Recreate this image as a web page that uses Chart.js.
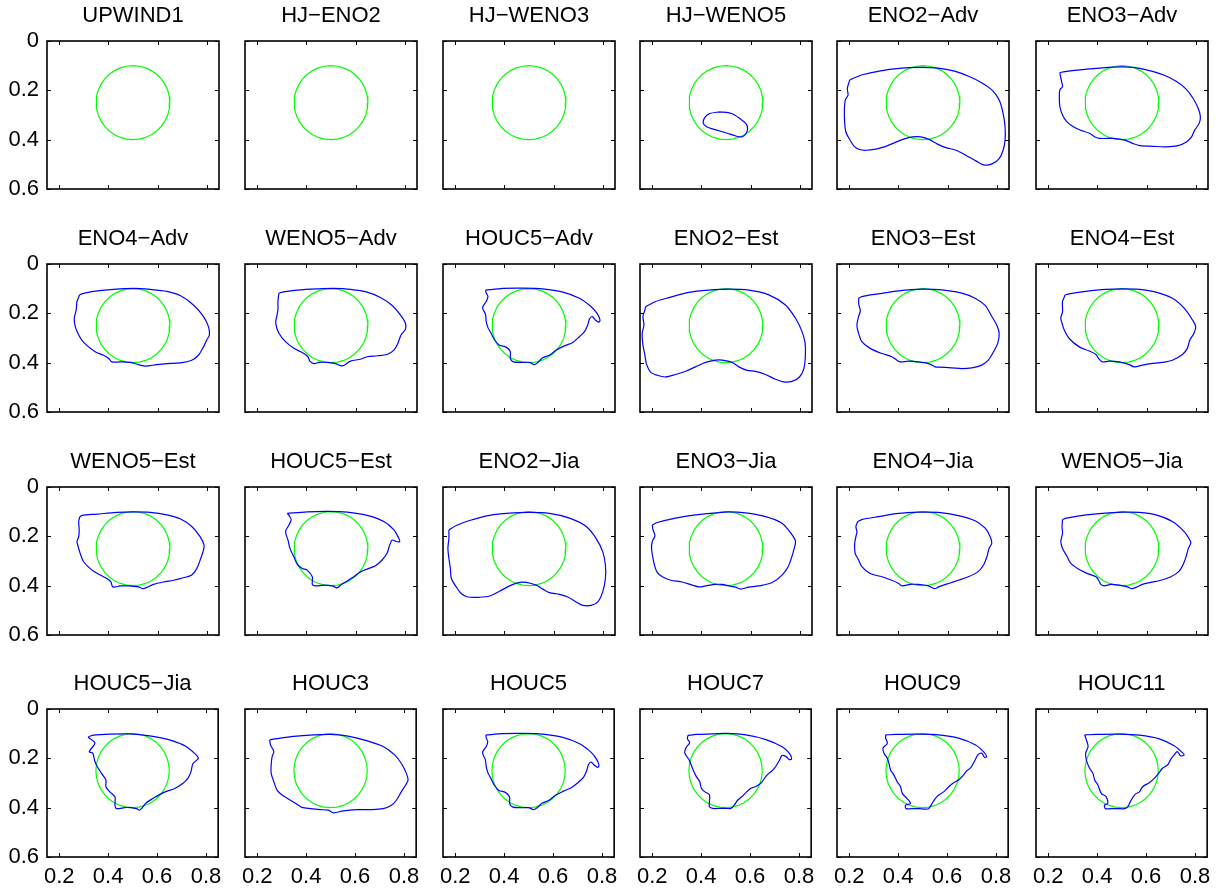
<!DOCTYPE html>
<html>
<head>
<meta charset="utf-8">
<script src="https://cdn.jsdelivr.net/npm/chart.js@4/dist/chart.umd.min.js"></script>
<style>
  html, body { margin: 0; padding: 0; background: #ffffff; }
  #fig { position: relative; width: 1219px; height: 890px; overflow: hidden; background: #ffffff; }
  #fig canvas { position: absolute; }
</style>
</head>
<body>
<div id="fig"></div>
<script>
// Panel titles, row by row (6 columns x 4 rows)
const titles = [
  'UPWIND1', 'HJ\u2212ENO2', 'HJ\u2212WENO3', 'HJ\u2212WENO5', 'ENO2\u2212Adv', 'ENO3\u2212Adv',
  'ENO4\u2212Adv', 'WENO5\u2212Adv', 'HOUC5\u2212Adv', 'ENO2\u2212Est', 'ENO3\u2212Est', 'ENO4\u2212Est',
  'WENO5\u2212Est', 'HOUC5\u2212Est', 'ENO2\u2212Jia', 'ENO3\u2212Jia', 'ENO4\u2212Jia', 'WENO5\u2212Jia',
  'HOUC5\u2212Jia', 'HOUC3', 'HOUC5', 'HOUC7', 'HOUC9', 'HOUC11'
];

// Axis ticks
const xTicks = [0.2, 0.4, 0.6, 0.8];
const xTickLabels = ['0.2', '0.4', '0.6', '0.8'];
const yTicks = [0, 0.2, 0.4, 0.6];
const yTickLabels = ['0', '0.2', '0.4', '0.6'];

// Initial interface: circle of radius 0.15 centred at (0.5, 0.25)
const circleX = [0.650, 0.6477, 0.6410, 0.6299, 0.6149, 0.5964, 0.5750, 0.5513, 0.5260, 0.500,
                 0.4740, 0.4487, 0.4250, 0.4036, 0.3851, 0.3701, 0.3590, 0.3523, 0.350,
                 0.3523, 0.3590, 0.3701, 0.3851, 0.4036, 0.4250, 0.4487, 0.4740, 0.500,
                 0.5260, 0.5513, 0.5750, 0.5964, 0.6149, 0.6299, 0.6410, 0.6477, 0.650];
const circleY = [0.250, 0.2760, 0.3013, 0.3250, 0.3464, 0.3649, 0.3799, 0.3910, 0.3977, 0.400,
                 0.3977, 0.3910, 0.3799, 0.3649, 0.3464, 0.3250, 0.3013, 0.2760, 0.250,
                 0.2240, 0.1987, 0.1750, 0.1536, 0.1351, 0.1201, 0.1090, 0.1023, 0.100,
                 0.1023, 0.1090, 0.1201, 0.1351, 0.1536, 0.1750, 0.1987, 0.2240, 0.250];

// Computed interfaces, [x, y] pairs
const upwind1 = [];
const hjEno2 = [];
const hjWeno3 = [];
const hjWeno5 = [[0.475,0.287],[0.522,0.294],[0.556,0.314],[0.581,0.335],[0.588,0.355],[0.581,0.376],[0.567,0.388],[0.543,0.386],[0.502,0.373],[0.455,0.359],[0.421,0.348],[0.407,0.332],[0.414,0.310],[0.434,0.294]];
const eno2Adv = [[0.200,0.160],[0.214,0.152],[0.254,0.137],[0.322,0.122],[0.403,0.111],[0.485,0.107],[0.552,0.109],[0.620,0.120],[0.688,0.144],[0.742,0.171],[0.783,0.201],[0.810,0.239],[0.826,0.293],[0.834,0.348],[0.834,0.402],[0.826,0.443],[0.810,0.477],[0.783,0.497],[0.749,0.503],[0.715,0.486],[0.674,0.463],[0.634,0.443],[0.593,0.432],[0.559,0.418],[0.525,0.399],[0.491,0.389],[0.457,0.389],[0.424,0.397],[0.383,0.413],[0.349,0.427],[0.308,0.438],[0.268,0.443],[0.241,0.440],[0.220,0.427],[0.203,0.402],[0.186,0.368],[0.181,0.327],[0.180,0.280],[0.184,0.239],[0.195,0.219],[0.192,0.192],[0.200,0.164]];
const eno3Adv = [[0.247,0.128],[0.268,0.124],[0.329,0.117],[0.410,0.110],[0.491,0.105],[0.546,0.107],[0.600,0.117],[0.667,0.137],[0.722,0.164],[0.762,0.196],[0.789,0.232],[0.810,0.273],[0.819,0.307],[0.814,0.334],[0.796,0.361],[0.783,0.389],[0.762,0.409],[0.728,0.424],[0.681,0.429],[0.627,0.427],[0.573,0.424],[0.546,0.416],[0.512,0.402],[0.464,0.395],[0.410,0.395],[0.390,0.389],[0.369,0.375],[0.329,0.361],[0.302,0.348],[0.275,0.327],[0.258,0.300],[0.247,0.266],[0.245,0.232],[0.247,0.198],[0.258,0.185],[0.254,0.164],[0.250,0.144]];
const eno4Adv = [[0.283,0.125],[0.292,0.121],[0.340,0.111],[0.421,0.103],[0.502,0.099],[0.570,0.103],[0.638,0.111],[0.692,0.128],[0.746,0.166],[0.787,0.213],[0.807,0.254],[0.811,0.288],[0.800,0.308],[0.787,0.336],[0.766,0.370],[0.739,0.390],[0.692,0.401],[0.638,0.404],[0.597,0.408],[0.550,0.414],[0.529,0.410],[0.489,0.399],[0.448,0.397],[0.414,0.397],[0.401,0.383],[0.380,0.370],[0.346,0.356],[0.299,0.318],[0.279,0.288],[0.265,0.254],[0.261,0.220],[0.269,0.186],[0.272,0.152]];
const weno5Adv = [[0.288,0.118],[0.302,0.114],[0.363,0.106],[0.444,0.101],[0.512,0.099],[0.579,0.103],[0.647,0.114],[0.701,0.136],[0.749,0.168],[0.783,0.207],[0.803,0.240],[0.803,0.264],[0.785,0.288],[0.772,0.322],[0.756,0.349],[0.728,0.367],[0.688,0.372],[0.647,0.376],[0.620,0.386],[0.579,0.394],[0.546,0.413],[0.518,0.404],[0.485,0.399],[0.451,0.399],[0.430,0.404],[0.414,0.394],[0.406,0.376],[0.383,0.359],[0.349,0.342],[0.315,0.315],[0.288,0.281],[0.275,0.240],[0.279,0.213],[0.284,0.186],[0.284,0.152]];
const houc5Adv = [[0.323,0.106],[0.394,0.099],[0.475,0.098],[0.556,0.101],[0.638,0.114],[0.705,0.139],[0.753,0.173],[0.777,0.200],[0.789,0.227],[0.784,0.236],[0.770,0.227],[0.757,0.213],[0.746,0.223],[0.739,0.247],[0.726,0.274],[0.705,0.295],[0.678,0.318],[0.644,0.332],[0.611,0.349],[0.583,0.370],[0.556,0.380],[0.536,0.399],[0.522,0.408],[0.502,0.399],[0.468,0.399],[0.437,0.397],[0.424,0.383],[0.424,0.356],[0.407,0.337],[0.380,0.329],[0.360,0.308],[0.346,0.281],[0.333,0.258],[0.326,0.234],[0.323,0.204],[0.312,0.182],[0.312,0.173],[0.326,0.152],[0.333,0.132],[0.326,0.118]];
const eno2Est = [[0.173,0.173],[0.214,0.152],[0.268,0.136],[0.349,0.115],[0.430,0.106],[0.512,0.102],[0.593,0.106],[0.674,0.125],[0.742,0.166],[0.783,0.220],[0.807,0.268],[0.821,0.315],[0.823,0.370],[0.817,0.424],[0.799,0.458],[0.769,0.476],[0.735,0.478],[0.701,0.467],[0.661,0.448],[0.620,0.435],[0.586,0.431],[0.552,0.417],[0.525,0.399],[0.485,0.390],[0.457,0.390],[0.417,0.399],[0.376,0.417],[0.336,0.435],[0.295,0.448],[0.254,0.458],[0.220,0.451],[0.193,0.438],[0.176,0.404],[0.170,0.370],[0.162,0.329],[0.159,0.281],[0.166,0.247],[0.162,0.213],[0.170,0.186]];
const eno3Est = [[0.238,0.139],[0.251,0.132],[0.319,0.121],[0.401,0.109],[0.495,0.102],[0.577,0.105],[0.658,0.118],[0.712,0.139],[0.753,0.168],[0.780,0.213],[0.800,0.247],[0.810,0.281],[0.804,0.322],[0.787,0.356],[0.766,0.390],[0.739,0.410],[0.699,0.421],[0.658,0.424],[0.617,0.421],[0.563,0.418],[0.550,0.417],[0.522,0.404],[0.482,0.397],[0.441,0.394],[0.407,0.397],[0.394,0.390],[0.373,0.376],[0.333,0.363],[0.285,0.342],[0.251,0.315],[0.238,0.281],[0.231,0.247],[0.238,0.213],[0.245,0.190],[0.241,0.173],[0.238,0.159]];
const eno4Est = [[0.269,0.125],[0.285,0.121],[0.353,0.111],[0.434,0.103],[0.502,0.101],[0.570,0.103],[0.638,0.114],[0.705,0.139],[0.753,0.179],[0.787,0.227],[0.800,0.254],[0.793,0.281],[0.776,0.308],[0.766,0.342],[0.746,0.367],[0.705,0.390],[0.665,0.399],[0.617,0.404],[0.583,0.410],[0.550,0.417],[0.529,0.408],[0.489,0.397],[0.448,0.394],[0.421,0.397],[0.405,0.383],[0.394,0.367],[0.367,0.353],[0.326,0.336],[0.285,0.302],[0.265,0.268],[0.256,0.240],[0.251,0.220],[0.258,0.193],[0.258,0.152]];
const weno5Est = [[0.283,0.122],[0.292,0.115],[0.353,0.110],[0.434,0.103],[0.502,0.101],[0.570,0.103],[0.638,0.113],[0.692,0.129],[0.739,0.160],[0.773,0.201],[0.789,0.235],[0.787,0.255],[0.776,0.289],[0.760,0.330],[0.739,0.357],[0.705,0.368],[0.665,0.378],[0.624,0.385],[0.583,0.395],[0.543,0.412],[0.522,0.405],[0.482,0.401],[0.448,0.401],[0.418,0.405],[0.410,0.385],[0.394,0.371],[0.367,0.357],[0.333,0.337],[0.299,0.303],[0.285,0.269],[0.275,0.235],[0.272,0.221],[0.279,0.201],[0.281,0.174],[0.279,0.140]];
const houc5Est = [[0.322,0.107],[0.403,0.101],[0.485,0.099],[0.566,0.102],[0.647,0.115],[0.715,0.140],[0.756,0.174],[0.776,0.208],[0.780,0.221],[0.766,0.221],[0.749,0.215],[0.739,0.235],[0.728,0.269],[0.708,0.296],[0.681,0.319],[0.654,0.330],[0.620,0.344],[0.586,0.368],[0.559,0.385],[0.539,0.398],[0.525,0.409],[0.505,0.401],[0.471,0.398],[0.437,0.401],[0.424,0.395],[0.424,0.364],[0.403,0.337],[0.383,0.330],[0.363,0.314],[0.349,0.283],[0.333,0.249],[0.325,0.215],[0.315,0.181],[0.329,0.154],[0.338,0.133],[0.329,0.115]];
const eno2Jia = [[0.174,0.174],[0.204,0.156],[0.258,0.136],[0.340,0.115],[0.421,0.106],[0.502,0.103],[0.583,0.107],[0.665,0.126],[0.733,0.160],[0.773,0.208],[0.800,0.262],[0.811,0.317],[0.811,0.371],[0.800,0.425],[0.780,0.466],[0.753,0.480],[0.719,0.480],[0.692,0.466],[0.658,0.446],[0.624,0.435],[0.583,0.428],[0.556,0.414],[0.529,0.398],[0.489,0.387],[0.462,0.387],[0.421,0.401],[0.380,0.423],[0.340,0.442],[0.299,0.447],[0.251,0.446],[0.224,0.432],[0.204,0.405],[0.184,0.371],[0.180,0.330],[0.174,0.289],[0.170,0.249],[0.174,0.208]];
const eno3Jia = [[0.200,0.154],[0.220,0.144],[0.295,0.126],[0.376,0.113],[0.457,0.105],[0.512,0.101],[0.579,0.105],[0.661,0.120],[0.728,0.147],[0.769,0.194],[0.783,0.221],[0.776,0.255],[0.766,0.289],[0.753,0.323],[0.728,0.357],[0.688,0.387],[0.634,0.401],[0.593,0.406],[0.559,0.414],[0.539,0.406],[0.512,0.401],[0.485,0.395],[0.457,0.395],[0.417,0.401],[0.390,0.405],[0.363,0.398],[0.322,0.385],[0.275,0.378],[0.241,0.364],[0.220,0.346],[0.209,0.317],[0.203,0.289],[0.197,0.249],[0.200,0.221],[0.211,0.197],[0.203,0.174]];
const eno4Jia = [[0.235,0.140],[0.251,0.132],[0.319,0.120],[0.401,0.107],[0.482,0.102],[0.563,0.103],[0.644,0.116],[0.712,0.137],[0.753,0.167],[0.773,0.201],[0.780,0.228],[0.769,0.249],[0.760,0.283],[0.746,0.317],[0.723,0.344],[0.685,0.364],[0.644,0.378],[0.604,0.391],[0.563,0.405],[0.547,0.412],[0.522,0.401],[0.482,0.395],[0.448,0.395],[0.414,0.401],[0.401,0.391],[0.373,0.378],[0.333,0.364],[0.285,0.351],[0.251,0.323],[0.238,0.296],[0.224,0.269],[0.222,0.228],[0.227,0.201],[0.231,0.181],[0.227,0.160]];
const weno5Jia = [[0.258,0.132],[0.275,0.126],[0.340,0.115],[0.421,0.107],[0.502,0.102],[0.570,0.103],[0.638,0.113],[0.705,0.140],[0.753,0.181],[0.776,0.215],[0.780,0.228],[0.770,0.249],[0.762,0.279],[0.749,0.314],[0.733,0.341],[0.699,0.364],[0.658,0.378],[0.617,0.387],[0.583,0.395],[0.543,0.412],[0.522,0.405],[0.489,0.398],[0.455,0.395],[0.428,0.401],[0.414,0.395],[0.405,0.378],[0.394,0.364],[0.360,0.351],[0.319,0.330],[0.292,0.310],[0.275,0.279],[0.258,0.249],[0.251,0.221],[0.258,0.187],[0.256,0.160]];
const houc5Jia = [[0.323,0.111],[0.340,0.106],[0.407,0.102],[0.489,0.101],[0.570,0.109],[0.651,0.125],[0.719,0.152],[0.760,0.186],[0.769,0.200],[0.760,0.209],[0.746,0.223],[0.739,0.254],[0.726,0.281],[0.705,0.302],[0.672,0.322],[0.624,0.340],[0.583,0.363],[0.556,0.380],[0.536,0.404],[0.529,0.410],[0.516,0.404],[0.475,0.399],[0.434,0.404],[0.428,0.390],[0.428,0.356],[0.407,0.336],[0.391,0.315],[0.391,0.288],[0.373,0.261],[0.356,0.234],[0.346,0.213],[0.337,0.179],[0.323,0.173],[0.346,0.139],[0.333,0.125],[0.319,0.115]];
const houc3 = [[0.251,0.125],[0.281,0.120],[0.349,0.111],[0.430,0.105],[0.498,0.103],[0.566,0.109],[0.647,0.128],[0.715,0.152],[0.762,0.186],[0.789,0.220],[0.810,0.261],[0.817,0.288],[0.807,0.308],[0.789,0.336],[0.769,0.370],[0.749,0.390],[0.715,0.404],[0.661,0.408],[0.607,0.408],[0.552,0.413],[0.512,0.421],[0.491,0.410],[0.457,0.408],[0.417,0.404],[0.383,0.399],[0.369,0.390],[0.336,0.370],[0.302,0.349],[0.281,0.329],[0.268,0.295],[0.257,0.261],[0.257,0.227],[0.261,0.193],[0.268,0.173],[0.254,0.145]];
const houc5 = [[0.325,0.106],[0.396,0.100],[0.477,0.099],[0.558,0.102],[0.640,0.115],[0.707,0.140],[0.754,0.174],[0.777,0.202],[0.788,0.228],[0.783,0.237],[0.769,0.228],[0.756,0.215],[0.745,0.225],[0.738,0.249],[0.725,0.276],[0.704,0.297],[0.676,0.318],[0.643,0.333],[0.610,0.350],[0.582,0.371],[0.555,0.382],[0.535,0.400],[0.521,0.408],[0.500,0.400],[0.466,0.400],[0.436,0.398],[0.423,0.384],[0.422,0.357],[0.405,0.338],[0.379,0.330],[0.360,0.309],[0.346,0.282],[0.334,0.259],[0.327,0.235],[0.323,0.205],[0.313,0.183],[0.313,0.172],[0.327,0.152],[0.333,0.132],[0.327,0.118]];
const houc7 = [[0.346,0.107],[0.380,0.103],[0.448,0.101],[0.502,0.099],[0.583,0.105],[0.665,0.124],[0.733,0.154],[0.762,0.181],[0.770,0.203],[0.760,0.205],[0.746,0.192],[0.730,0.189],[0.722,0.205],[0.705,0.233],[0.692,0.249],[0.678,0.260],[0.665,0.273],[0.644,0.301],[0.624,0.314],[0.604,0.321],[0.583,0.339],[0.567,0.355],[0.550,0.369],[0.536,0.389],[0.522,0.403],[0.502,0.403],[0.475,0.403],[0.448,0.403],[0.434,0.396],[0.434,0.376],[0.434,0.348],[0.414,0.335],[0.401,0.321],[0.394,0.294],[0.380,0.273],[0.367,0.246],[0.350,0.205],[0.333,0.178],[0.340,0.154],[0.353,0.137],[0.344,0.121]];
const houc9 = [[0.349,0.105],[0.390,0.103],[0.485,0.102],[0.566,0.105],[0.647,0.118],[0.715,0.145],[0.749,0.173],[0.762,0.193],[0.753,0.196],[0.742,0.179],[0.726,0.186],[0.715,0.207],[0.704,0.227],[0.695,0.240],[0.681,0.250],[0.667,0.268],[0.647,0.288],[0.627,0.299],[0.607,0.315],[0.586,0.336],[0.566,0.349],[0.552,0.363],[0.539,0.383],[0.525,0.404],[0.512,0.406],[0.485,0.404],[0.457,0.404],[0.433,0.404],[0.430,0.390],[0.451,0.383],[0.437,0.363],[0.417,0.342],[0.410,0.315],[0.396,0.295],[0.383,0.268],[0.369,0.247],[0.363,0.223],[0.356,0.200],[0.342,0.179],[0.338,0.159],[0.356,0.139],[0.349,0.118]];
const houc11 = [[0.349,0.105],[0.396,0.103],[0.491,0.102],[0.573,0.106],[0.654,0.121],[0.715,0.149],[0.749,0.177],[0.756,0.186],[0.742,0.190],[0.728,0.173],[0.715,0.186],[0.701,0.204],[0.688,0.227],[0.667,0.240],[0.654,0.258],[0.634,0.281],[0.613,0.299],[0.586,0.315],[0.573,0.336],[0.556,0.345],[0.539,0.370],[0.525,0.397],[0.512,0.404],[0.485,0.404],[0.457,0.404],[0.434,0.404],[0.430,0.390],[0.444,0.383],[0.437,0.356],[0.417,0.342],[0.403,0.308],[0.390,0.288],[0.383,0.261],[0.369,0.240],[0.356,0.207],[0.353,0.179],[0.363,0.152],[0.356,0.125]];

const fronts = [
  upwind1, hjEno2, hjWeno3, hjWeno5, eno2Adv, eno3Adv,
  eno4Adv, weno5Adv, houc5Adv, eno2Est, eno3Est, eno4Est,
  weno5Est, houc5Est, eno2Jia, eno3Jia, eno4Jia, weno5Jia,
  houc5Jia, houc3, houc5, houc7, houc9, houc11
];

// Layout of the 6 x 4 grid of axes (pixel positions of each plot box)
const COLS = 6;
const boxLeft = [47, 245, 443, 640, 837, 1036];
const boxTop = [41, 264, 487, 709];
const boxW = 172, boxH = 148;
const gutterLeft = 47, gutterTop = 41, gutterBottom = 33, gutterRight = 10;
const FONT = "'Liberation Sans', Arial, Helvetica, sans-serif";

// Frame around each axes box with small inward ticks on all four sides
const framePlugin = {
  id: 'frame',
  afterDatasetsDraw(chart) {
    const { ctx, chartArea: a } = chart;
    const xs = chart.scales.x, ys = chart.scales.y;
    const tl = 4;
    ctx.save();
    ctx.strokeStyle = '#000000';
    ctx.lineWidth = 1;
    ctx.beginPath();
    xTicks.forEach(v => {
      const px = Math.round(xs.getPixelForValue(v)) + 0.5;
      ctx.moveTo(px, a.bottom); ctx.lineTo(px, a.bottom - tl);
      ctx.moveTo(px, a.top); ctx.lineTo(px, a.top + tl);
    });
    yTicks.forEach(v => {
      const py = Math.round(ys.getPixelForValue(v)) + 0.5;
      ctx.moveTo(a.left, py); ctx.lineTo(a.left + tl, py);
      ctx.moveTo(a.right, py); ctx.lineTo(a.right - tl, py);
    });
    ctx.stroke();
    ctx.lineWidth = 1.6;
    ctx.strokeRect(a.left, a.top, a.right - a.left, a.bottom - a.top);
    ctx.restore();
  }
};

const fig = document.getElementById('fig');

titles.forEach((title, k) => {
  const row = Math.floor(k / COLS), col = k % COLS;
  const canvas = document.createElement('canvas');
  const W = gutterLeft + boxW + gutterRight;
  const H = gutterTop + boxH + gutterBottom;
  canvas.width = W; canvas.height = H;
  canvas.style.width = W + 'px'; canvas.style.height = H + 'px';
  canvas.style.left = (boxLeft[col] - gutterLeft) + 'px';
  canvas.style.top = (boxTop[row] - gutterTop) + 'px';
  fig.appendChild(canvas);

  const front = fronts[k];
  const frontData = front.length ? front.concat([front[0]]).map(p => ({ x: p[0], y: p[1] })) : [];
  const circleData = circleX.map((v, i) => ({ x: v, y: circleY[i] }));
  const tickFont = { family: FONT, size: 22, weight: 'normal', lineHeight: 1.2 };

  new Chart(canvas, {
    type: 'scatter',
    data: {
      datasets: [
        { data: frontData, showLine: true, borderColor: '#0000ff', borderWidth: 1.2,
          pointRadius: 0, tension: 0.3, fill: false },
        { data: circleData, showLine: true, borderColor: '#00ff00', borderWidth: 1.2,
          pointRadius: 0, tension: 0, fill: false }
      ]
    },
    options: {
      responsive: false,
      animation: false,
      events: [],
      layout: { padding: { top: 0, right: gutterRight, bottom: 0, left: 0 } },
      plugins: {
        legend: { display: false },
        tooltip: { enabled: false },
        title: {
          display: true, text: title, fullSize: false, color: '#000000',
          font: { family: FONT, size: 22, weight: 'normal', lineHeight: 1.2 },
          padding: { top: 3, bottom: 11.6 }
        }
      },
      scales: {
        x: {
          type: 'linear', min: 0.15, max: 0.85,
          grid: { display: false, drawTicks: false },
          border: { display: false },
          afterBuildTicks: s => { s.ticks = xTicks.map(v => ({ value: v })); },
          afterFit: s => { s.height = gutterBottom; },
          ticks: {
            display: row === 3, padding: 7, color: '#000000', font: tickFont,
            maxRotation: 0, autoSkip: false,
            callback: (v, i) => xTickLabels[i]
          }
        },
        y: {
          type: 'linear', reverse: true, min: 0, max: 0.6,
          grid: { display: false, drawTicks: false },
          border: { display: false },
          afterBuildTicks: s => { s.ticks = yTicks.map(v => ({ value: v })); },
          afterFit: s => { s.width = gutterLeft; },
          ticks: {
            display: col === 0, padding: 8, color: '#000000', font: tickFont,
            autoSkip: false,
            callback: (v, i) => yTickLabels[i]
          }
        }
      }
    },
    plugins: [framePlugin]
  });
});
</script>
</body>
</html>
